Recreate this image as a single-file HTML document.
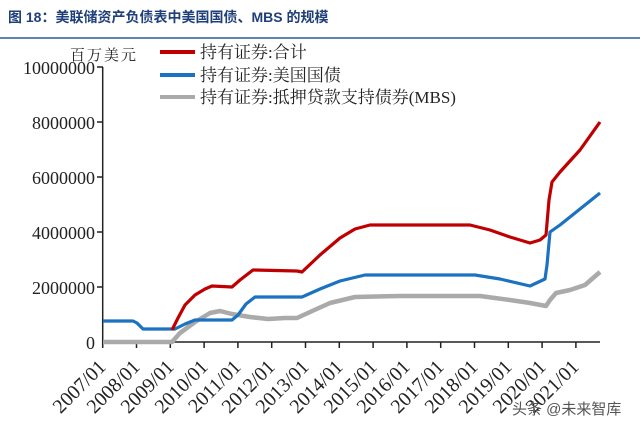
<!DOCTYPE html>
<html><head><meta charset="utf-8"><style>
body{margin:0;background:#fff;width:640px;height:428px;overflow:hidden}
svg text{font-family:"Liberation Serif","Noto Serif CJK SC",serif}
</style></head><body>
<svg width="640" height="428" viewBox="0 0 640 428" xmlns="http://www.w3.org/2000/svg">
<text x="8" y="22" font-size="14" font-weight="bold" fill="#1f3f7a" style="font-family:'Liberation Sans','Noto Sans CJK SC',sans-serif">图 18：美联储资产负债表中美国国债、MBS 的规模</text>
<line x1="0" y1="38" x2="640" y2="38" stroke="#2a5a9a" stroke-width="1.5"/>
<text x="70" y="60" font-size="15" fill="#222" letter-spacing="2">百万美元</text>
<g font-size="17" fill="#222">
<line x1="160" y1="52" x2="195" y2="52" stroke="#c00000" stroke-width="4"/>
<text x="200" y="58">持有证券:合计</text>
<line x1="160" y1="75" x2="195" y2="75" stroke="#1a72c0" stroke-width="4"/>
<text x="200" y="81">持有证券:美国国债</text>
<line x1="160" y1="97" x2="195" y2="97" stroke="#aaaaaa" stroke-width="4"/>
<text x="200" y="103">持有证券:抵押贷款支持债券(MBS)</text>
</g>
<g font-size="18" fill="#222" text-anchor="end">
<text x="95" y="74">10000000</text>
<text x="95" y="129">8000000</text>
<text x="95" y="184">6000000</text>
<text x="95" y="239">4000000</text>
<text x="95" y="294">2000000</text>
<text x="95" y="349">0</text>
</g>
<g stroke="#222" stroke-width="1.5" fill="none">
<line x1="102.7" y1="67" x2="102.7" y2="342"/>
<line x1="102.7" y1="342" x2="600" y2="342"/>
<path d="M97 67h6M97 122h6M97 177h6M97 232h6M97 287h6"/>
<path d="M102.7 342v6M136.5 342v6M170.3 342v6M204.1 342v6M237.9 342v6M271.7 342v6M305.5 342v6M339.3 342v6M373.1 342v6M406.9 342v6M440.7 342v6M474.5 342v6M508.3 342v6M542.1 342v6M575.9 342v6"/>
</g>
<g font-size="20" fill="#222" text-anchor="end">
<text transform="translate(107,368) rotate(-45)">2007/01</text>
<text transform="translate(141,368) rotate(-45)">2008/01</text>
<text transform="translate(175,368) rotate(-45)">2009/01</text>
<text transform="translate(209,368) rotate(-45)">2010/01</text>
<text transform="translate(242,368) rotate(-45)">2011/01</text>
<text transform="translate(276,368) rotate(-45)">2012/01</text>
<text transform="translate(310,368) rotate(-45)">2013/01</text>
<text transform="translate(344,368) rotate(-45)">2014/01</text>
<text transform="translate(378,368) rotate(-45)">2015/01</text>
<text transform="translate(411,368) rotate(-45)">2016/01</text>
<text transform="translate(445,368) rotate(-45)">2017/01</text>
<text transform="translate(479,368) rotate(-45)">2018/01</text>
<text transform="translate(513,368) rotate(-45)">2019/01</text>
<text transform="translate(547,368) rotate(-45)">2020/01</text>
<text transform="translate(580,368) rotate(-45)">2021/01</text>
</g>
<g fill="none" stroke-width="3.2" stroke-linejoin="round">
<path stroke="#aaaaaa" stroke-width="4.5" d="M103 342L172 342L180 333L195 322L210 313L220 311L232 314L250 317L268 319L285 318L297 318L310 312L330 303L355 297L400 296L480 296L510 300L530 303L546 306L550 300L556 293L570 290L585 285L600 272"/>
<path stroke="#1a72c0" d="M103 321L133 321L137 323L143 329L175 329L185 324L195 320L232 320L238 315L246 304L255 297L302 297L320 289L340 281L365 275L475 275L500 279L530 286L545 279L547 265L550 232L560 225L600 193"/>
<path stroke="#c00000" d="M172 330L178 318L185 305L195 295L205 289L212 286L232 287L240 280L253 270L297 271L302 272L320 255L340 238L355 229L370 225L470 225L490 230L510 237L530 243L540 240L546 235L549 200L552 182L560 172L580 150L600 122"/>
</g>
<text x="512" y="414" font-size="15" fill="#555" style="font-family:'Liberation Sans','Noto Sans CJK SC',sans-serif">头条 @未来智库</text>
</svg>
</body></html>
